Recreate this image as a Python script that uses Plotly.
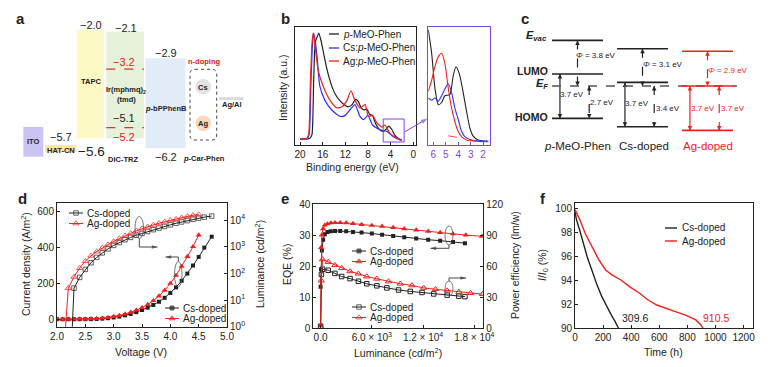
import plotly.graph_objects as go

W, H = 772, 367
FONT = "Liberation Sans, Arial, Helvetica, sans-serif"
INK = "#222222"
RED = "#f0201c"
BLUE = "#2f2fff"
PURPLE = "#7f45e8"


def fx(x):
    return x / W


def fy(y):
    return 1 - y / H


# ======================= DATA =======================
# (a) device energy-level diagram (levels as drawn, eV)
a_layers = ["ITO", "HAT-CN", "TAPC", "DIC-TRZ", "p-bPPhenB"]
a_top_ev = [-5.20, -5.80, -2.00, -2.06, -2.93]
a_bot_ev = [-6.18, -6.02, -5.57, -5.57, -5.90]
a_ir_levels_ev = [-3.29, -5.22]
a_cathode_ev = [-4.22, -4.31]

# (b) UPS spectra (binding energy eV, normalised intensity)
b_E_mo = [20.0, 18.6, 18.2, 17.9, 17.6, 17.3, 17.0, 16.7, 16.3, 15.8, 15.2, 14.5, 13.8, 13.0, 12.2,
          11.5, 10.8, 10.2, 9.7, 9.2, 8.7, 8.2, 7.7, 7.2, 6.8, 6.3, 5.8, 5.3, 4.8, 4.3, 3.8, 3.3,
          2.8, 2.3, 2.0]
b_I_mo = [0.01, 0.01, 0.02, 0.05, 0.55, 0.92, 0.96, 1.0, 0.93, 0.80, 0.65, 0.52, 0.43, 0.37, 0.33,
          0.31, 0.33, 0.38, 0.36, 0.30, 0.28, 0.29, 0.24, 0.23, 0.17, 0.12, 0.09, 0.08, 0.10, 0.13,
          0.10, 0.05, 0.02, 0.005, 0.0]
b_E_cs = [20.0, 18.8, 18.4, 18.1, 17.8, 17.6, 17.3, 17.0, 16.5, 15.6, 14.4, 12.9, 12.0, 11.2, 10.3,
          9.4, 8.8, 8.0, 7.2, 6.4, 5.5, 4.65, 3.5, 2.3, 2.0]
b_I_cs = [0.01, 0.01, 0.05, 0.5, 0.9, 1.0, 0.92, 0.78, 0.5, 0.37, 0.28, 0.22, 0.23, 0.28, 0.33,
          0.22, 0.19, 0.23, 0.14, 0.11, 0.09, 0.08, 0.03, 0.0, 0.0]
b_E_ag = [20.0, 18.9, 18.5, 18.2, 17.9, 17.7, 17.4, 16.8, 15.9, 14.7, 13.5, 12.6, 11.7, 11.0, 10.3,
          9.4, 8.5, 7.9, 7.2, 6.4, 5.5, 5.0, 4.1, 2.9, 2.3, 2.0]
b_I_ag = [0.01, 0.01, 0.05, 0.5, 0.9, 1.0, 0.9, 0.65, 0.5, 0.37, 0.30, 0.31, 0.37, 0.46, 0.37,
          0.30, 0.33, 0.22, 0.23, 0.16, 0.12, 0.14, 0.06, 0.02, 0.0, 0.0]
# inset (HOMO region)
bi_E_mo = [6.4, 6.13, 5.87, 5.6, 5.33, 5.07, 4.67, 4.4, 4.18, 3.92, 3.65, 3.33, 3.06, 2.8, 2.4, 2.0, 1.6]
bi_I_mo = [1.0, 0.79, 0.48, 0.33, 0.35, 0.41, 0.42, 0.59, 0.67, 0.61, 0.47, 0.27, 0.12, 0.05, 0.015, 0.006, 0.004]
bi_E_cs = [6.4, 6.13, 5.87, 5.6, 5.33, 5.07, 4.8, 4.53, 4.27, 4.0, 3.73, 3.47, 3.06, 2.53, 2.0, 1.6]
bi_I_cs = [0.39, 0.37, 0.39, 0.36, 0.41, 0.47, 0.52, 0.44, 0.30, 0.20, 0.09, 0.045, 0.02, 0.008, 0.005, 0.004]
bi_E_ag = [6.4, 6.13, 5.87, 5.6, 5.33, 5.07, 4.8, 4.53, 4.27, 4.0, 3.73, 3.33, 2.8, 2.0, 1.6]
bi_I_ag = [0.45, 0.55, 0.67, 0.76, 0.79, 0.70, 0.48, 0.30, 0.18, 0.09, 0.045, 0.015, 0.006, 0.0, 0.0]
bi_fit_E = [4.8, 3.6]
bi_fit_I = [0.052, 0.030]

# (c) energy alignment (eV, relative to E_F)
c_materials = ["<i>p</i>-MeO-Phen", "Cs-doped", "Ag-doped"]
c_phi = [3.8, 3.1, 2.9]
c_gap = [3.7, 3.7, 3.7]
c_ef_homo = [2.7, 3.4, 3.7]

# (d) J-V-L
d_V_cs = [2.0, 2.1, 2.2, 2.3, 2.4, 2.5, 2.6, 2.7, 2.8, 2.9, 3.0, 3.1, 3.2, 3.3, 3.4, 3.5, 3.6, 3.7,
          3.8, 3.9, 4.0, 4.1, 4.2, 4.3, 4.4, 4.5, 4.6, 4.73]
d_J_cs = [0, 0, 0, 0, 0.3, 0.6, 1.0, 1.8, 3.5, 6, 10, 15, 22, 30, 40, 52, 65, 80, 98, 120, 147,
          178, 215, 255, 300, 348, 400, 461]
d_V_ag = [2.0, 2.1, 2.2, 2.3, 2.4, 2.5, 2.6, 2.7, 2.8, 2.9, 3.0, 3.1, 3.2, 3.3, 3.4, 3.5, 3.6, 3.7,
          3.8, 3.9, 4.0, 4.1, 4.2, 4.3, 4.4, 4.5]
d_J_ag = [0, 0, 0.2, 0.5, 1, 1.5, 2.5, 4, 6.5, 10, 15, 21, 29, 39, 51, 65, 82, 104, 130, 162, 200,
          245, 295, 350, 405, 470]
d_LV_cs = [2.27, 2.30, 2.4, 2.5, 2.6, 2.7, 2.8, 2.9, 3.0, 3.1, 3.2, 3.3, 3.4, 3.5, 3.6, 3.7, 3.8,
           3.9, 4.0, 4.1, 4.2, 4.3, 4.4, 4.5, 4.6, 4.73]
d_L_cs = [1, 28, 71, 141, 251, 398, 589, 832, 1122, 1445, 1820, 2239, 2692, 3162, 3715, 4365,
          5012, 5754, 6607, 7586, 8511, 9550, 10715, 11749, 12882, 14125]
d_LV_ag = [2.15, 2.2, 2.3, 2.4, 2.5, 2.6, 2.7, 2.8, 2.9, 3.0, 3.1, 3.2, 3.3, 3.4, 3.5, 3.6, 3.7,
           3.8, 3.9, 4.0, 4.1, 4.2, 4.3, 4.4, 4.5]
d_L_ag = [1, 28, 74, 158, 288, 457, 661, 912, 1202, 1585, 2042, 2570, 3162, 3981, 4786, 5623,
          6607, 7586, 8710, 9772, 10965, 12303, 13804, 15136, 16218]

# (e) EQE / power efficiency vs luminance
e_L_eqe_cs = [10, 60, 150, 300, 500, 800, 1200, 1700, 2300, 3000, 3800, 4800, 6000, 7200, 8500,
              9800, 11200, 12600, 14000, 15500, 16900]
e_eqe_cs = [13.4, 19.0, 25.0, 28.5, 30.3, 31.0, 31.2, 31.3, 31.3, 31.2, 31.0, 30.8, 30.5, 30.1,
            29.7, 29.3, 28.9, 28.5, 28.2, 27.8, 27.4]
e_L_eqe_ag = [10, 60, 150, 300, 500, 800, 1200, 1700, 2300, 3000, 3800, 4800, 6000, 7200, 8500,
              9800, 11200, 12600, 14000, 15500, 17000, 18900]
e_eqe_ag = [0.8, 26.0, 30.0, 32.0, 33.2, 33.6, 33.9, 34.0, 34.0, 33.9, 33.7, 33.4, 33.1, 32.8,
            32.4, 32.0, 31.6, 31.2, 30.8, 30.4, 30.0, 29.6]
e_L_pe_cs = [10, 100, 235, 900, 1680, 2470, 3450, 4430, 5410, 6590, 7760, 9130, 10500, 11880,
             13250, 14820, 16190, 16900]
e_pe_cs = [2, 52, 57, 56, 53, 50, 48, 45.4, 43, 41, 39, 37, 35.6, 34.6, 33.2, 32, 31, 30.6]
e_L_pe_ag = [10, 80, 235, 900, 1680, 2470, 3450, 4430, 5410, 6590, 7960, 9330, 10700, 12070,
             13450, 14820, 16190, 17560, 18940]
e_pe_ag = [1, 46, 66.5, 64, 61, 58, 55, 52.7, 50, 47.8, 45.2, 43, 41.4, 39, 37.7, 36.4, 35, 34, 33]

# (f) lifetime
f_t_cs = [0, 10, 33, 56, 90, 124, 157, 191, 225, 259, 286, 304, 309.6]
f_v_cs = [99.7, 99.08, 98.19, 97.2, 95.83, 94.72, 93.6, 92.64, 91.8, 91.1, 90.55, 90.13, 90.0]
f_t_ag = [0, 12, 36, 73, 121, 170, 218, 266, 327, 388, 460, 521, 582, 642, 715, 787, 860, 897, 910.5]
f_v_ag = [99.9, 99.6, 99.0, 97.9, 96.8, 95.7, 94.86, 94.44, 94.03, 93.47, 92.92, 92.36, 91.94,
          91.67, 91.39, 91.1, 90.7, 90.28, 90.0]
f_labels = ["309.6", "910.5"]

# ======================= FIGURE =======================
fig = go.Figure()
shapes = []
ann = []


def T(x, y, s, size=10, color=INK, bold=False, xanchor="center", yanchor="middle", angle=0):
    if bold:
        s = "<b>" + s + "</b>"
    ann.append(dict(x=fx(x), y=fy(y), xref="paper", yref="paper", text=s, showarrow=False,
                    font=dict(size=size, color=color, family=FONT), xanchor=xanchor,
                    yanchor=yanchor, textangle=angle, borderpad=0))


def pline(x0, y0, x1, y1, color=INK, width=1, dash="solid"):
    shapes.append(dict(type="line", xref="paper", yref="paper", x0=fx(x0), y0=fy(y0),
                       x1=fx(x1), y1=fy(y1), line=dict(color=color, width=width, dash=dash)))


axis_base = dict(showline=True, linecolor=INK, linewidth=1, ticks="inside", ticklen=3,
                 tickwidth=1, tickcolor=INK, showgrid=False, zeroline=False, automargin=False,
                 tickfont=dict(size=10, family=FONT, color=INK))
hidden = dict(visible=False, fixedrange=True, automargin=False, showgrid=False, zeroline=False)
lay = {}

# pixel overlay axis (for connectors and legend samples)
lay["xaxis8"] = dict(hidden, domain=[0, 1], range=[0, W], anchor="y10")
lay["yaxis10"] = dict(hidden, domain=[0, 1], range=[H, 0], anchor="x8")


def connector(xs, ys, color="#333", width=0.9, size=6):
    n = len(xs)
    fig.add_trace(go.Scatter(x=xs, y=ys, xaxis="x8", yaxis="y10", mode="lines+markers",
                             line=dict(color=color, width=width),
                             marker=dict(symbol=["circle"] * (n - 1) + ["arrow"],
                                         size=[0] * (n - 1) + [size], color=color,
                                         angleref="previous", line=dict(width=0)),
                             showlegend=False, hoverinfo="skip"))


# ---------- (a) ----------
lay["xaxis"] = dict(hidden, domain=[0, fx(260)], range=[0, 260])
lay["yaxis"] = dict(hidden, domain=[fy(180), 1], range=[-6.9505, -1.0099])
a_xspan = [(23.3, 43.3), (45.0, 76.5), (76.7, 104.0), (106.3, 144.0), (145.5, 185.5)]
a_fill = ["#cbc4f3", "#fde5a2", "#fbf9c4", "#e5f1d9", "#e2ebf8"]
for i in range(len(a_layers)):
    shapes.append(dict(type="rect", xref="x", yref="y", x0=a_xspan[i][0], x1=a_xspan[i][1],
                       y0=a_bot_ev[i], y1=a_top_ev[i], fillcolor=a_fill[i], line=dict(width=0),
                       layer="below"))
for lv in a_ir_levels_ev:
    shapes.append(dict(type="line", xref="x", yref="y", x0=106.3, x1=144.0, y0=lv, y1=lv,
                       line=dict(color="#e03030", width=1.2, dash="dash")))
shapes.append(dict(type="rect", xref="x", yref="y", x0=219, x1=243.5, y0=a_cathode_ev[1],
                   y1=a_cathode_ev[0], fillcolor="#d9d9d9", line=dict(width=0)))
r = 5
bx0, bx1, by0, by1 = 190, 216.7, 69.3, 140
path = (f"M {fx(bx0 + r)},{fy(by0)} L {fx(bx1 - r)},{fy(by0)} Q {fx(bx1)},{fy(by0)} {fx(bx1)},{fy(by0 + r)} "
        f"L {fx(bx1)},{fy(by1 - r)} Q {fx(bx1)},{fy(by1)} {fx(bx1 - r)},{fy(by1)} "
        f"L {fx(bx0 + r)},{fy(by1)} Q {fx(bx0)},{fy(by1)} {fx(bx0)},{fy(by1 - r)} "
        f"L {fx(bx0)},{fy(by0 + r)} Q {fx(bx0)},{fy(by0)} {fx(bx0 + r)},{fy(by0)} Z")
shapes.append(dict(type="path", xref="paper", yref="paper", path=path,
                   line=dict(color="#444", width=1, dash="dot")))
for cy, col in [(86.7, "#e2e2e2"), (123.3, "#f9d8bd")]:
    shapes.append(dict(type="circle", xref="paper", yref="paper", x0=fx(195.5), x1=fx(211.1),
                       y0=fy(cy + 7.8), y1=fy(cy - 7.8), fillcolor=col, line=dict(width=0)))

T(20, 19, "a", 15, bold=True)
T(90.5, 25, "−2.0", 11)
T(126, 28, "−2.1", 11)
T(124, 62, "−3.2", 11, color="#e02020")
T(91, 82, "TAPC", 7.5, bold=True)
T(126, 90, "Ir(mphmq)<sub>2</sub>", 7.5, bold=True)
T(126, 99.5, "(tmd)", 7.5, bold=True)
T(124, 117.5, "−5.1", 11)
T(124, 137.5, "−5.2", 11, color="#e02020")
T(61, 137.5, "−5.7", 11)
T(60.5, 150.5, "HAT-CN", 7.5, bold=True)
T(91, 151, "−5.6", 13.5)
T(33, 142, "ITO", 7.5, bold=True)
T(123, 159.5, "DIC-TRZ", 7.5, bold=True)
T(165.5, 53.5, "−2.9", 11)
T(165.5, 108.5, "<i>p</i>-bPPhenB", 7.5, bold=True)
T(165.5, 157, "−6.2", 11)
T(204, 61, "n-doping", 7.5, color="#e02020", bold=True)
T(203.3, 87.3, "Cs", 7.5, bold=True)
T(203.3, 123.8, "Ag", 7.5, bold=True)
T(232, 104.5, "Ag/Al", 7.5, bold=True)
T(204, 158.5, "<i>p</i>-Car-Phen", 7.5, bold=True)

# ---------- (b) ----------
lay["xaxis2"] = dict(axis_base, domain=[fx(295), fx(416)], range=[20.9, -0.5], anchor="y2",
                     tickvals=[20, 16, 12, 8, 4, 0], mirror=True)
lay["yaxis2"] = dict(axis_base, domain=[fy(145), fy(27)], range=[-0.047, 1.056], anchor="x2",
                     showticklabels=False, ticks="", mirror=True)
for E, I, c in [(b_E_mo, b_I_mo, INK), (b_E_cs, b_I_cs, BLUE), (b_E_ag, b_I_ag, RED)]:
    fig.add_trace(go.Scatter(x=E, y=I, xaxis="x2", yaxis="y2", mode="lines",
                             line=dict(color=c, width=1.2, shape="spline", smoothing=0.6),
                             showlegend=False, hoverinfo="skip"))
shapes.append(dict(type="rect", xref="x2", yref="y2", x0=5.3, x1=1.6, y0=-0.019, y1=0.196,
                   line=dict(color=PURPLE, width=1)))
lay["xaxis3"] = dict(axis_base, domain=[fx(428.3), fx(490)], range=[6.4, 1.45], anchor="y3",
                     tickvals=[6, 5, 4, 3, 2], mirror=True, linecolor=PURPLE, tickcolor=PURPLE,
                     tickfont=dict(size=10, family=FONT, color=PURPLE))
lay["yaxis3"] = dict(axis_base, domain=[fy(145), fy(27)], range=[-0.03, 1.025], anchor="x3",
                     showticklabels=False, ticks="", mirror=True, linecolor=PURPLE)
for E, I, c in [(bi_E_mo, bi_I_mo, INK), (bi_E_cs, bi_I_cs, BLUE), (bi_E_ag, bi_I_ag, RED)]:
    fig.add_trace(go.Scatter(x=E, y=I, xaxis="x3", yaxis="y3", mode="lines",
                             line=dict(color=c, width=1.1, shape="spline", smoothing=0.6),
                             showlegend=False, hoverinfo="skip"))
fig.add_trace(go.Scatter(x=bi_fit_E, y=bi_fit_I, xaxis="x3", yaxis="y3", mode="lines",
                         line=dict(color=RED, width=0.8, dash="dash"), showlegend=False,
                         hoverinfo="skip"))
connector([404.5, 427.5], [132, 118.5], PURPLE, 1, 7)
T(285, 18, "b", 15, bold=True)
T(283, 88, "Intensity (a.u.)", 10.5, angle=-90)
T(352, 167, "Binding energy (eV)", 10.5)
for yy, c, s in [(34, INK, "<i>p</i>-MeO-Phen"), (48, BLUE, "Cs:<i>p</i>-MeO-Phen"),
                 (61, RED, "Ag:<i>p</i>-MeO-Phen")]:
    pline(329, yy, 339, yy, c, 1.3)
    T(342, yy, s, 10, color=INK, xanchor="left")

# ---------- (c) ----------
lay["xaxis4"] = dict(hidden, domain=[fx(530), 1], range=[-0.7308, 2.9923], anchor="y4")
lay["yaxis4"] = dict(hidden, domain=[fy(146), fy(26)], range=[-5, 5], anchor="x4")
hw = 0.392
shapes.append(dict(type="line", xref="x4", yref="y4", x0=-hw, x1=2.454, y0=0, y1=0,
                   line=dict(color="#555", width=1.3, dash="dash")))


def c_arrow(x, y0, y1, color, dash):
    top, bot = max(y0, y1), min(y0, y1)
    fig.add_trace(go.Scatter(x=[x, x], y=[top, bot], xaxis="x4", yaxis="y4", mode="lines+markers",
                             line=dict(color=color, width=1.2, dash=dash),
                             marker=dict(symbol=["arrow-up", "arrow-down"], size=4.5, color=color,
                                         line=dict(width=0)),
                             showlegend=False, hoverinfo="skip"))


for i in range(3):
    col = RED if i == 2 else INK
    evac = c_phi[i]
    homo = -c_ef_homo[i]
    lumo = homo + c_gap[i]
    for lv in [evac, lumo, homo]:
        shapes.append(dict(type="line", xref="x4", yref="y4", x0=i - hw, x1=i + hw, y0=lv, y1=lv,
                           line=dict(color=col, width=1.6)))
    c_arrow(i - 0.27, lumo, homo, col, "solid")
    c_arrow(i, evac, 0, col, "dash")
    c_arrow(i + 0.18, 0, homo, col, "dash")

T(525, 19, "c", 15, bold=True)
T(548, 36, "<i>E</i><sub><i>vac</i></sub>", 11, xanchor="right", bold=True)
T(549, 71, "LUMO", 10.5, xanchor="right", bold=True)
T(549, 84, "<i>E</i><sub><i>F</i></sub>", 11, xanchor="right", bold=True)
T(549, 117, "HOMO", 10.5, xanchor="right", bold=True)
lbl_c = [(596, 55, "<i>Φ</i> = 3.8 eV", INK), (572, 95, "3.7 eV", INK), (602, 102, "2.7 eV", INK),
         (663, 64.5, "<i>Φ</i> = 3.1 eV", INK), (637, 103.5, "3.7 eV", INK),
         (667.5, 108.5, "3.4 eV", INK), (727.5, 70, "<i>Φ</i> = 2.9 eV", RED),
         (703, 108.5, "3.7 eV", RED), (733, 108.5, "3.7 eV", RED)]
for x, y, s, c in lbl_c:
    T(x, y, s, 8, color=c)
for xx, s, c in [(577.5, c_materials[0], INK), (643.5, c_materials[1], INK),
                 (708, c_materials[2], RED)]:
    T(xx, 146, s, 11.5, color=c)

# ---------- (d) ----------
lay["xaxis5"] = dict(axis_base, domain=[fx(57), fx(227)], range=[2.0, 5.0], anchor="y5",
                     tickvals=[2.0, 2.5, 3.0, 3.5, 4.0, 4.5, 5.0], tickformat=".1f", mirror=True)
lay["yaxis5"] = dict(axis_base, domain=[fy(327), fy(203)], range=[-43, 649], anchor="x5",
                     tickvals=[0, 200, 400, 600])
lay["yaxis6"] = dict(axis_base, overlaying="y5", side="right", anchor="x5", type="log",
                     range=[-0.01, 4.64], tickvals=[1, 10, 100, 1000, 10000],
                     ticktext=["10<sup>0</sup>", "10<sup>1</sup>", "10<sup>2</sup>",
                               "10<sup>3</sup>", "10<sup>4</sup>"])
ms = 4.5
fig.add_trace(go.Scatter(x=d_V_cs, y=d_J_cs, xaxis="x5", yaxis="y5", mode="lines+markers",
                         line=dict(color=INK, width=1), marker=dict(symbol="square", size=ms - 0.5, color=INK),
                         showlegend=False, hoverinfo="skip"))
fig.add_trace(go.Scatter(x=d_V_ag, y=d_J_ag, xaxis="x5", yaxis="y5", mode="lines+markers",
                         line=dict(color=RED, width=1), marker=dict(symbol="triangle-up", size=ms + 1, color=RED),
                         showlegend=False, hoverinfo="skip"))
fig.add_trace(go.Scatter(x=d_LV_cs, y=d_L_cs, xaxis="x5", yaxis="y6", mode="lines+markers",
                         line=dict(color=INK, width=1),
                         marker=dict(symbol="square-open", size=[0] + [ms] * (len(d_L_cs) - 1),
                                     color=INK, line=dict(width=1)),
                         showlegend=False, hoverinfo="skip"))
fig.add_trace(go.Scatter(x=d_LV_ag, y=d_L_ag, xaxis="x5", yaxis="y6", mode="lines+markers",
                         line=dict(color=RED, width=1),
                         marker=dict(symbol="triangle-up-open", size=[0] + [ms + 1] * (len(d_L_ag) - 1),
                                     color=RED, line=dict(width=1)),
                         showlegend=False, hoverinfo="skip"))
T(22, 198, "d", 15, bold=True)
T(25, 264, "Current density (A/m<sup>2</sup>)", 10.5, angle=-90)
T(141, 352, "Voltage (V)", 10.5)
T(259, 264, "Luminance (cd/m<sup>2</sup>)", 10.5, angle=-90)
shapes.append(dict(type="circle", xref="paper", yref="paper", x0=fx(135), x1=fx(143.5),
                   y0=fy(238.5), y1=fy(216.5), line=dict(color="#555", width=0.8)))
connector([139.3, 139.3, 157.5], [238.5, 247, 247])
shapes.append(dict(type="circle", xref="paper", yref="paper", x0=fx(174.5), x1=fx(182),
                   y0=fy(287), y1=fy(261.5), line=dict(color="#555", width=0.8)))
connector([178.3, 178.3, 165.5], [261.5, 257, 257])

# ---------- (e) ----------
lay["xaxis6"] = dict(axis_base, domain=[fx(313.3), fx(483.3)], range=[-850, 19050], anchor="y7",
                     tickvals=[0, 6000, 12000, 18000],
                     ticktext=["0.0", "6.0 × 10<sup>3</sup>", "1.2 × 10<sup>4</sup>",
                               "1.8 × 10<sup>4</sup>"], mirror=True)
lay["yaxis7"] = dict(axis_base, domain=[fy(328.3), fy(204)], range=[0, 40], anchor="x6",
                     tickvals=[0, 10, 20, 30, 40])
lay["yaxis8"] = dict(axis_base, overlaying="y7", side="right", anchor="x6", range=[0, 120],
                     tickvals=[0, 30, 60, 90, 120])
fig.add_trace(go.Scatter(x=e_L_eqe_cs, y=e_eqe_cs, xaxis="x6", yaxis="y7", mode="lines+markers",
                         line=dict(color=INK, width=1), marker=dict(symbol="square", size=ms - 0.5, color=INK),
                         showlegend=False, hoverinfo="skip"))
fig.add_trace(go.Scatter(x=e_L_eqe_ag, y=e_eqe_ag, xaxis="x6", yaxis="y7", mode="lines+markers",
                         line=dict(color=RED, width=1), marker=dict(symbol="triangle-up", size=ms + 1, color=RED),
                         showlegend=False, hoverinfo="skip"))
fig.add_trace(go.Scatter(x=e_L_pe_cs, y=e_pe_cs, xaxis="x6", yaxis="y8", mode="lines+markers",
                         line=dict(color=INK, width=1),
                         marker=dict(symbol="square-open", size=ms, color=INK, line=dict(width=1)),
                         showlegend=False, hoverinfo="skip"))
fig.add_trace(go.Scatter(x=e_L_pe_ag, y=e_pe_ag, xaxis="x6", yaxis="y8", mode="lines+markers",
                         line=dict(color=RED, width=1),
                         marker=dict(symbol="triangle-up-open", size=ms + 1, color=RED, line=dict(width=1)),
                         showlegend=False, hoverinfo="skip"))
T(285, 198, "e", 15, bold=True)
T(287, 265, "EQE (%)", 10.5, angle=-90)
T(398, 352, "Luminance (cd/m<sup>2</sup>)", 10.5)
T(515, 265, "Power efficiency (lm/w)", 10.5, angle=-90)
shapes.append(dict(type="circle", xref="paper", yref="paper", x0=fx(445), x1=fx(453),
                   y0=fy(245), y1=fy(226), line=dict(color="#555", width=0.8)))
connector([449, 449, 430.5], [245, 248.3, 248.3])
shapes.append(dict(type="circle", xref="paper", yref="paper", x0=fx(445), x1=fx(453),
                   y0=fy(296), y1=fy(281), line=dict(color="#555", width=0.8)))
connector([449, 449, 466], [281, 278, 278])

# ---------- (f) ----------
lay["xaxis7"] = dict(axis_base, domain=[fx(575), fx(752.7)], range=[0, 1265], anchor="y9",
                     tickvals=[0, 200, 400, 600, 800, 1000, 1200], mirror=True)
lay["yaxis9"] = dict(axis_base, domain=[fy(328.3), fy(203.3)], range=[90, 100.42], anchor="x7",
                     tickvals=[90, 92, 94, 96, 98, 100], mirror=True)
fig.add_trace(go.Scatter(x=f_t_cs, y=f_v_cs, xaxis="x7", yaxis="y9", mode="lines",
                         line=dict(color=INK, width=1.4), showlegend=False, hoverinfo="skip"))
fig.add_trace(go.Scatter(x=f_t_ag, y=f_v_ag, xaxis="x7", yaxis="y9", mode="lines",
                         line=dict(color=RED, width=1.4), showlegend=False, hoverinfo="skip"))
ann.append(dict(x=f_t_cs[-1], y=f_v_cs[-1], xref="x7", yref="y9", text=f_labels[0], showarrow=False,
                xanchor="left", yanchor="bottom", xshift=2, yshift=2,
                font=dict(size=10.5, family=FONT, color=INK)))
ann.append(dict(x=f_t_ag[-1], y=f_v_ag[-1], xref="x7", yref="y9", text=f_labels[1], showarrow=False,
                xanchor="left", yanchor="bottom", xshift=-2, yshift=2,
                font=dict(size=10.5, family=FONT, color=RED)))
T(543, 198, "f", 15, bold=True)
T(543, 265, "<i>I</i>/<i>I</i><sub>0</sub> (%)", 10.5, angle=-90)
T(663, 352, "Time (h)", 10.5)
pline(665, 228, 677, 228, INK, 1.4)
T(681, 228, "Cs-doped", 10, xanchor="left")
pline(665, 241, 677, 241, RED, 1.4)
T(681, 241, "Ag-doped", 10, xanchor="left")


# ---------- legend samples ----------
def leg(x0, x1, y, color, symbol, size, label):
    fig.add_trace(go.Scatter(x=[x0, (x0 + x1) / 2, x1], y=[y, y, y], xaxis="x8", yaxis="y10",
                             mode="lines+markers", line=dict(color=color, width=1),
                             marker=dict(symbol=symbol, size=[0, size, 0], color=color,
                                         line=dict(width=1, color=color)),
                             showlegend=False, hoverinfo="skip"))
    T(x1 + 3, y, label, 10, xanchor="left")


leg(69, 83, 213, INK, "square-open", ms, "Cs-doped")
leg(69, 83, 223.5, RED, "triangle-up-open", ms + 1, "Ag-doped")
leg(165, 179, 308, INK, "square", ms - 0.5, "Cs-doped")
leg(165, 179, 318.5, RED, "triangle-up", ms + 1, "Ag-doped")
leg(352, 366, 251, INK, "square", ms - 0.5, "Cs-doped")
leg(352, 366, 261.5, RED, "triangle-up", ms + 1, "Ag-doped")
leg(352, 366, 307, INK, "square-open", ms, "Cs-doped")
leg(352, 366, 317.5, RED, "triangle-up-open", ms + 1, "Ag-doped")

fig.update_layout(width=W, height=H, margin=dict(l=0, r=0, t=0, b=0, pad=0, autoexpand=False),
                  paper_bgcolor="white", plot_bgcolor="rgba(0,0,0,0)", shapes=shapes,
                  annotations=ann, font=dict(family=FONT, color=INK), showlegend=False,
                  hovermode=False, **lay)
fig.write_html("out.html", config={"displayModeBar": False, "staticPlot": True},
               post_script="document.body.style.margin='0px';document.body.style.padding='0px';"
                           "document.body.style.overflow='hidden';")
